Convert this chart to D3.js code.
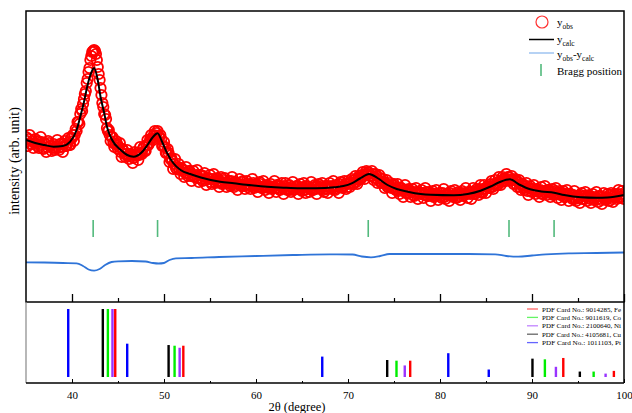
<!DOCTYPE html>
<html><head><meta charset="utf-8">
<script src="https://cdn.jsdelivr.net/npm/d3@7"></script>
<style>
body{margin:0;background:#fff}
svg{display:block}
text{font-family:"Liberation Serif","Times New Roman",serif;fill:#000}
</style>
</head><body>
<svg id="chart" width="632" height="413"></svg>
<script>
// ---------------- data ----------------
// observed intensities, one row per degree (35.0, 35.1, ... 35.9), last value at 100.0
const obsStart = 35, obsStep = 0.1;
const yObs = [
1650,1610,1560,1630,1670,1580,1580,1610,1540,1590,
1630,1570,1600,1610,1540,1570,1650,1600,1540,1530,
1590,1580,1500,1550,1610,1590,1560,1560,1510,1540,
1580,1520,1540,1560,1620,1540,1520,1580,1580,1550,
1500,1580,1610,1560,1560,1590,1640,1570,1570,1640,
1640,1670,1610,1670,1730,1710,1800,1800,1780,1880,
1930,1910,1980,2030,2080,2110,2190,2230,2300,2340,
2420,2460,2500,2510,2520,2510,2480,2420,2350,2280,
2220,2140,2070,1990,1950,1880,1870,1830,1740,1710,
1720,1670,1610,1650,1650,1590,1550,1580,1610,1580,
1530,1550,1590,1500,1450,1530,1510,1480,1450,1480,
1520,1460,1430,1480,1480,1460,1390,1440,1500,1470,
1460,1490,1420,1470,1550,1490,1480,1530,1550,1510,
1510,1570,1620,1570,1590,1630,1670,1630,1620,1670,
1710,1660,1690,1710,1660,1650,1670,1630,1560,1560,
1600,1550,1490,1490,1530,1490,1400,1430,1440,1410,
1330,1380,1430,1340,1330,1350,1380,1320,1280,1340,
1320,1320,1250,1290,1350,1290,1260,1310,1310,1260,
1210,1270,1310,1250,1250,1270,1320,1240,1200,1270,
1270,1230,1210,1260,1290,1220,1170,1240,1240,1230,
1270,1200,1180,1230,1280,1220,1190,1230,1240,1200,
1150,1210,1250,1180,1190,1220,1240,1190,1150,1190,
1210,1180,1160,1210,1250,1190,1150,1170,1200,1190,
1120,1180,1230,1170,1160,1200,1210,1160,1130,1180,
1210,1150,1170,1180,1130,1160,1230,1190,1140,1160,
1180,1170,1100,1150,1200,1180,1140,1140,1210,1160,
1120,1170,1160,1140,1090,1160,1180,1130,1140,1150,
1210,1140,1100,1170,1170,1130,1120,1160,1190,1140,
1080,1160,1190,1130,1120,1140,1170,1120,1100,1150,
1200,1120,1130,1150,1160,1160,1080,1130,1180,1140,
1110,1150,1190,1120,1090,1160,1150,1140,1100,1130,
1200,1120,1120,1150,1170,1130,1080,1160,1180,1140,
1130,1160,1190,1120,1100,1150,1160,1130,1090,1160,
1190,1140,1130,1160,1210,1130,1120,1170,1160,1150,
1090,1180,1200,1150,1140,1160,1210,1180,1130,1150,
1210,1180,1150,1190,1230,1180,1180,1220,1260,1200,
1180,1240,1260,1230,1230,1270,1300,1260,1230,1280,
1310,1280,1300,1290,1260,1260,1310,1280,1220,1240,
1280,1260,1190,1220,1270,1240,1190,1190,1230,1200,
1140,1180,1220,1150,1150,1170,1190,1140,1090,1170,
1180,1130,1120,1140,1180,1110,1080,1140,1140,1120,
1050,1120,1170,1090,1090,1120,1130,1090,1050,1100,
1130,1070,1060,1100,1140,1080,1030,1100,1090,1080,
1120,1090,1040,1070,1140,1100,1060,1060,1100,1070,
1010,1090,1110,1050,1060,1080,1120,1060,1020,1070,
1090,1060,1040,1090,1130,1050,1030,1080,1080,1070,
1010,1090,1110,1060,1050,1070,1120,1080,1040,1050,
1100,1060,1020,1090,1110,1060,1070,1090,1140,1080,
1040,1100,1100,1080,1030,1100,1140,1080,1080,1110,
1130,1100,1070,1130,1170,1100,1090,1130,1170,1130,
1090,1150,1160,1140,1140,1180,1210,1150,1130,1180,
1220,1180,1170,1170,1250,1210,1170,1200,1250,1230,
1210,1210,1280,1230,1250,1250,1210,1220,1260,1220,
1180,1220,1230,1180,1150,1200,1220,1150,1120,1170,
1180,1140,1120,1160,1190,1110,1070,1140,1160,1130,
1100,1130,1170,1110,1080,1130,1120,1100,1050,1120,
1150,1080,1080,1110,1160,1090,1070,1120,1120,1100,
1050,1110,1130,1070,1080,1110,1140,1080,1040,1080,
1110,1070,1020,1090,1110,1050,1050,1080,1120,1060,
1010,1080,1080,1050,1030,1070,1110,1030,1010,1060,
1060,1040,990,1070,1090,1030,1030,1060,1100,1050,
1010,1060,1070,1030,990,1050,1080,1020,1030,1050,
1100,1030,1000,1060,1060,1020,980,1050,1090,1040,
1020,1050,1080,1040,1010,1070,1090,1030,1000,1060,
1080,1050,1030,1080,1120,1040,1050,1080,1110,1070,
1030
];
const calcTheta = [35,36,37,38,39,39.8,40.5,40.9,41.3,41.65,42,42.4,42.8,43.1,43.5,43.8,44.3,45.3,46,46.7,
  47.5,48.2,48.8,49.3,49.8,50.35,51,51.8,53,54,56.1,57.6,59.5,61.2,63,64.8,66.5,68.5,69.5,70.4,
  71.3,72.3,73.2,74.3,75.3,76.5,77.9,79,81.5,83,84.4,85.5,86.5,87.6,88.6,89.8,91,92.4,93.5,95.3,
  97,98.2,100];
const calcVal = [1620,1590,1570,1553,1560,1603,1720,1853,2000,2153,2270,2340,2220,2053,1890,1753,1630,1520,1470,1453,
  1490,1570,1650,1687,1600,1487,1390,1320,1275,1245,1203,1187,1167,1153,1143,1137,1137,1147,1160,1187,
  1235,1280,1240,1170,1130,1103,1080,1072,1067,1080,1113,1155,1200,1227,1175,1127,1105,1093,1070,1047,
  1042,1045,1070];
const diffOffset = 400;
const diffTheta = [35,37,39,40.5,41.2,41.8,42.4,43,43.6,44.3,45,46.5,48,48.8,49.4,50,50.6,51.3,53,56,
  60,64,68,70.5,71.5,72.5,73.5,74.5,78,82,86,87.2,88.5,90,91.5,94,97,100];
const diffVal = [-3,-5,-10,-13,-40,-75,-87,-70,-30,0,7,10,5,-10,-15,-10,20,37,40,50,
  60,70,77,75,55,47,60,80,80,80,77,60,53,65,77,87,90,95];
const braggPos = [42.3, 49.3, 72.2, 87.5, 92.4];
const xTickValues = [40, 50, 60, 70, 80, 90, 100];
const minorTickValues = [45, 55, 65, 75, 85, 95];

const phaseNames = ["Fe", "Co", "Ni", "Cu", "Pt"];
const cardNumbers = ["9014285", "9011619", "2100640", "4105681", "1011103"];
const refTheta = {
  Fe: [44.7, 52.1, 76.76, 93.4, 98.9],
  Co: [43.9, 51.15, 75.27, 91.4, 96.7],
  Ni: [44.4, 51.7, 76.17, 92.6, 98.0],
  Cu: [43.35, 50.5, 74.26, 90.05, 95.2],
  Pt: [39.59, 46.0, 67.2, 80.9, 85.3]
};
const refIntensity = {
  Fe: [100, 46, 24, 28, 9],
  Co: [100, 46, 24, 26, 8],
  Ni: [100, 43, 17, 15, 5],
  Cu: [100, 47, 25, 27, 8],
  Pt: [100, 49, 30, 35, 11]
};
const phaseColors = {Fe: "#ff0000", Co: "#00ee00", Ni: "#9933ff", Cu: "#000000", Pt: "#0000ff"};

// ---------------- layout ----------------
const SERIF = '"Liberation Serif","Times New Roman",serif';
const L = 26, R = 624, T = 11, MID = 302, B = 383;
const svg = d3.select("#chart");
const x = d3.scaleLinear().domain([35, 100]).range([L, R]);
const y = d3.scaleLinear().domain([0, 2910]).range([MID, T]);
const yRef = d3.scaleLinear().domain([0, 100]).range([377, 309]);

svg.append("defs").append("clipPath").attr("id", "clipMain")
  .append("rect").attr("x", L).attr("y", T).attr("width", R - L).attr("height", MID - T);

const main = svg.append("g").attr("clip-path", "url(#clipMain)");

// observed circles
const obsData = yObs.map((v, i) => [obsStart + i * obsStep, v]);
main.append("g").selectAll("circle").data(obsData).join("circle")
  .attr("cx", d => x(d[0])).attr("cy", d => y(d[1])).attr("r", 5.2)
  .attr("fill", "none").attr("stroke", "#ff0000").attr("stroke-width", 1.8);

// calc line
const calcData = calcTheta.map((t, i) => [t, calcVal[i]]);
main.append("path").datum(calcData)
  .attr("d", d3.line().x(d => x(d[0])).y(d => y(d[1])).curve(d3.curveMonotoneX))
  .attr("fill", "none").attr("stroke", "#000").attr("stroke-width", 2);

// bragg ticks
const braggLevel = 735;
main.append("g").selectAll("line").data(braggPos).join("line")
  .attr("x1", d => x(d)).attr("x2", d => x(d))
  .attr("y1", y(braggLevel) - 8.5).attr("y2", y(braggLevel) + 8.5)
  .attr("stroke", "#52b97c").attr("stroke-width", 1.6);

// difference
const diffData = diffTheta.map((t, i) => [t, diffVal[i] + diffOffset]);
main.append("path").datum(diffData)
  .attr("d", d3.line().x(d => x(d[0])).y(d => y(d[1])).curve(d3.curveMonotoneX))
  .attr("fill", "none").attr("stroke", "#2f74d8").attr("stroke-width", 1.8);

// main frame
svg.append("rect").attr("x", L).attr("y", T).attr("width", R - L).attr("height", MID - T)
  .attr("fill", "none").attr("stroke", "#000").attr("stroke-width", 1.5);

// main bottom ticks (inward)
const gM = svg.append("g").attr("transform", `translate(0,${MID})`)
  .call(d3.axisTop(x).tickValues(xTickValues).tickSize(8).tickFormat(""));
gM.select(".domain").remove();
gM.selectAll("line").attr("stroke-width", 1.3);
const gm2 = svg.append("g").attr("transform", `translate(0,${MID})`)
  .call(d3.axisTop(x).tickValues(minorTickValues).tickSize(4).tickFormat(""));
gm2.select(".domain").remove();
gm2.selectAll("line").attr("stroke-width", 1.2);

// ---------------- reference panel ----------------
const ref = svg.append("g");
phaseNames.forEach(p => {
  ref.append("g").selectAll("rect").data(refTheta[p].map((t, i) => [t, refIntensity[p][i]])).join("rect")
    .attr("x", d => x(d[0]) - 1.2).attr("width", 2.4)
    .attr("y", d => yRef(d[1])).attr("height", d => yRef(0) - yRef(d[1]))
    .attr("fill", phaseColors[p]);
});

// lower frame
svg.append("line").attr("x1", L).attr("x2", L).attr("y1", MID).attr("y2", B).attr("stroke", "#888").attr("stroke-width", 1.2);
svg.append("line").attr("x1", R).attr("x2", R).attr("y1", MID).attr("y2", B).attr("stroke", "#000").attr("stroke-width", 1.5);

const axB = svg.append("g").attr("transform", `translate(0,${B})`)
  .call(d3.axisBottom(x).tickValues(xTickValues).tickSize(0).tickPadding(8).tickFormat(d3.format("d")));
axB.attr("font-family", SERIF);
axB.select(".domain").attr("stroke", "#000").attr("stroke-width", 1.5).attr("d", `M${L},0H${R}`);
axB.selectAll("text").attr("font-size", 11);
const tb1 = svg.append("g").attr("transform", `translate(0,${B})`)
  .call(d3.axisTop(x).tickValues(xTickValues).tickSize(4).tickFormat(""));
tb1.select(".domain").remove();
const tb2 = svg.append("g").attr("transform", `translate(0,${B})`)
  .call(d3.axisTop(x).tickValues(minorTickValues).tickSize(2).tickFormat(""));
tb2.select(".domain").remove();

// axis titles
svg.append("text").attr("x", 297).attr("y", 411).attr("text-anchor", "middle").attr("font-size", 12.5).text("2θ (degree)");
svg.append("text").attr("transform", "translate(19,161) rotate(-90)").attr("text-anchor", "middle")
  .attr("font-size", 14).text("intensity (arb. unit)");

// ---------------- legends ----------------
const lg = svg.append("g");
const fs = 11;
lg.append("circle").attr("cx", 542).attr("cy", 22).attr("r", 6).attr("fill", "none").attr("stroke", "#ff3030").attr("stroke-width", 1.2);
function sub(parts, xx, yy) {
  const tx = lg.append("text").attr("x", xx).attr("y", yy).attr("font-size", fs);
  parts.forEach(pt => {
    if (pt.s) tx.append("tspan").attr("font-size", 7.5).attr("dy", 2.5).text(pt.t);
    else tx.append("tspan").attr("font-size", fs).attr("dy", pt.reset ? -2.5 : 0).text(pt.t);
  });
}
sub([{t: "y"}, {t: "obs", s: true}], 557, 26);
lg.append("line").attr("x1", 529).attr("x2", 554).attr("y1", 39.5).attr("y2", 39.5).attr("stroke", "#000").attr("stroke-width", 1.5);
sub([{t: "y"}, {t: "calc", s: true}], 557, 43);
lg.append("line").attr("x1", 529).attr("x2", 554).attr("y1", 53).attr("y2", 53).attr("stroke", "#9ec3f0").attr("stroke-width", 1.5);
sub([{t: "y"}, {t: "obs", s: true}, {t: "-y", reset: true}, {t: "calc", s: true}], 557, 58);
lg.append("line").attr("x1", 541).attr("x2", 541).attr("y1", 64).attr("y2", 76).attr("stroke", "#52b97c").attr("stroke-width", 1.6);
lg.append("text").attr("x", 557).attr("y", 75).attr("font-size", fs).text("Bragg position");

const lg2 = svg.append("g");
phaseNames.forEach((p, i) => {
  const yy = 309 + i * 8.4;
  lg2.append("line").attr("x1", 527).attr("x2", 538).attr("y1", yy).attr("y2", yy)
    .attr("stroke", phaseColors[p]).attr("stroke-width", 1.3).attr("opacity", 0.6);
  lg2.append("text").attr("x", 542).attr("y", yy + 2.5).attr("font-size", 7)
    .attr("textLength", 79).attr("lengthAdjust", "spacingAndGlyphs")
    .text(`PDF Card No.: ${cardNumbers[i]}, ${p}`);
});
</script>
</body></html>
